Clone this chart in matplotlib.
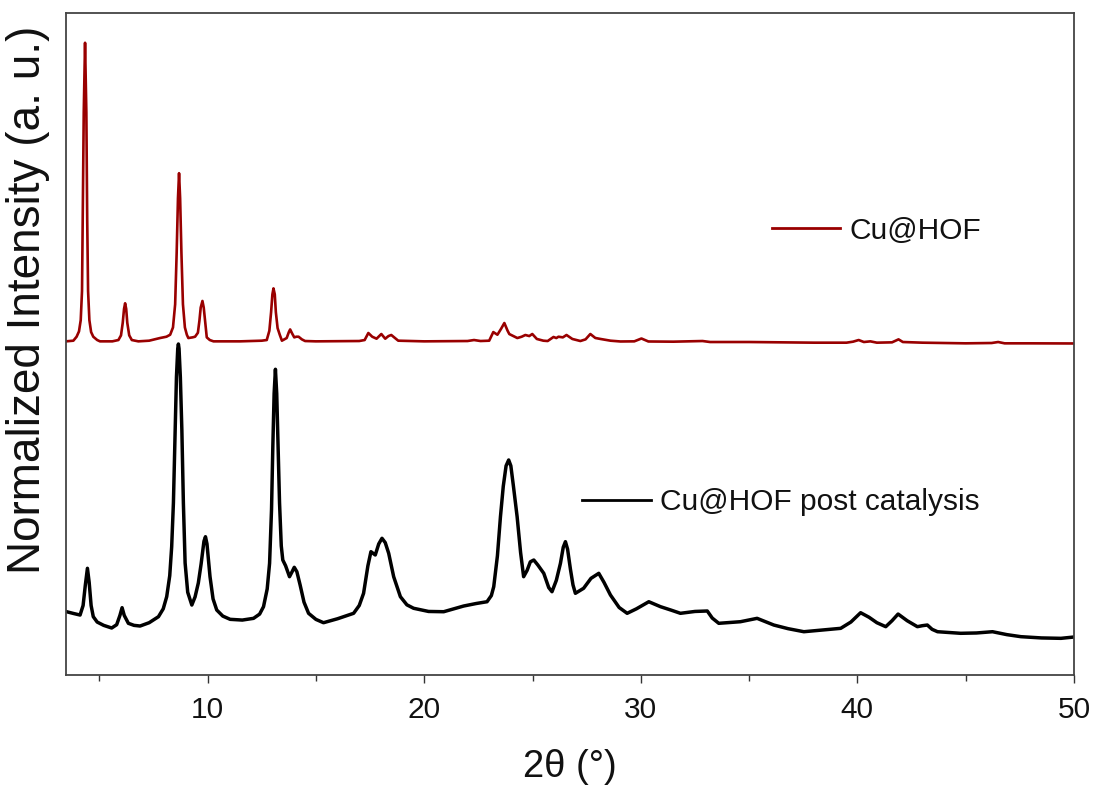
import matplotlib
matplotlib.use("Agg")
import matplotlib.pyplot as plt
from matplotlib.ticker import MultipleLocator

plt.rcParams['font.family'] = ['Liberation Sans', 'DejaVu Sans']

# ---- data (2θ in degrees, intensity in plot units) ----
hof_theta = [3.46, 3.80, 3.95, 4.06, 4.14, 4.20, 4.23, 4.28, 4.34, 4.40, 4.44, 4.48, 4.54, 4.62, 4.72, 4.90, 5.03,
             5.60, 5.88, 6.00, 6.08, 6.14, 6.19, 6.24, 6.29, 6.38, 6.50, 6.80,
             7.30, 7.80, 8.10, 8.27, 8.40, 8.50, 8.57, 8.63, 8.68, 8.73, 8.79, 8.86, 8.95, 9.04, 9.11,
             9.30, 9.42, 9.55, 9.62, 9.68, 9.76, 9.82, 9.88, 9.96, 10.10, 10.27,
             11.50, 12.50, 12.73, 12.85, 12.93, 12.99, 13.04, 13.10, 13.15, 13.23, 13.33, 13.43,
             13.65, 13.75, 13.81, 13.90, 14.00, 14.10, 14.20, 14.35, 14.50, 15.00,
             17.00, 17.25, 17.42, 17.60, 17.80, 18.02, 18.20, 18.35, 18.48, 18.65, 18.80, 20.00,
             22.00, 22.30, 22.60, 23.00, 23.19, 23.38, 23.55, 23.70, 23.85, 23.93, 24.30, 24.50, 24.67, 24.85,
             24.99, 25.20, 25.50, 25.70, 25.97, 26.10, 26.20, 26.40, 26.57, 26.84, 27.21, 27.45, 27.67, 27.90,
             28.14, 28.60, 29.06, 29.70, 30.03, 30.35, 31.50, 32.85, 33.20, 35.00, 36.50, 38.00, 39.50, 39.80,
             40.06, 40.30, 40.60, 40.90, 41.60, 41.90, 42.10, 43.00, 45.00, 46.20, 46.50, 46.80, 48.00, 50.00]
hof_int = [50.40, 50.50, 51.10, 51.90, 53.60, 58.00, 68.70, 85.00, 95.50, 85.00, 68.70, 58.00, 53.60, 51.80, 51.10, 50.60, 50.40,
           50.40, 50.60, 51.30, 53.20, 55.30, 56.15, 55.30, 53.20, 51.30, 50.60, 50.40,
           50.50, 50.90, 51.10, 51.40, 52.50, 56.00, 63.75, 72.00, 75.80, 72.00, 63.75, 56.00, 52.50, 51.40, 50.90,
           51.00, 51.10, 51.70, 53.50, 55.50, 56.50, 55.50, 53.50, 51.00, 50.60, 50.40,
           50.40, 50.50, 50.60, 52.00, 54.80, 57.50, 58.40, 57.50, 54.80, 52.40, 51.40, 50.50,
           50.90, 51.80, 52.20, 51.60, 51.00, 51.10, 51.10, 50.70, 50.45, 50.40,
           50.45, 50.60, 51.66, 51.10, 50.80, 51.51, 50.80, 51.20, 51.36, 50.90, 50.50, 50.40,
           50.45, 50.60, 50.45, 50.50, 51.80, 51.40, 52.30, 53.17, 52.00, 51.50, 50.90, 51.10, 51.36, 51.20,
           51.51, 50.76, 50.50, 50.45, 51.06, 50.90, 51.10, 51.00, 51.36, 50.76, 50.45, 50.70, 51.51, 50.91,
           50.76, 50.50, 50.38, 50.40, 50.83, 50.38, 50.35, 50.45, 50.30, 50.30, 50.25, 50.20, 50.20, 50.35,
           50.60, 50.30, 50.40, 50.20, 50.25, 50.70, 50.30, 50.20, 50.10, 50.15, 50.30, 50.10, 50.10, 50.08]

post_theta = [3.49, 3.80, 4.11, 4.25, 4.35, 4.45, 4.53, 4.62, 4.72, 4.90, 5.20, 5.57, 5.80, 5.95, 6.05, 6.15,
              6.34, 6.60, 6.88, 7.30, 7.73, 7.95, 8.11, 8.25, 8.34, 8.42, 8.50, 8.56, 8.62, 8.65, 8.68, 8.74,
              8.81, 8.88, 8.96, 9.08, 9.27, 9.42, 9.57, 9.70, 9.83, 9.90, 9.97, 10.11, 10.25, 10.42, 10.70,
              11.04, 11.60, 12.12, 12.40, 12.58, 12.75, 12.86, 12.95, 13.01, 13.07, 13.13, 13.19, 13.25,
              13.32, 13.40, 13.47, 13.60, 13.78, 13.90, 14.00, 14.12, 14.27, 14.45, 14.66, 15.00, 15.35,
              16.00, 16.74, 17.00, 17.20, 17.40, 17.54, 17.74, 17.90, 18.05, 18.20, 18.36, 18.59, 18.90,
              19.20, 19.51, 20.20, 20.90, 21.82, 22.40, 22.90, 23.10, 23.21, 23.38, 23.52, 23.65, 23.78,
              23.90, 24.00, 24.12, 24.29, 24.45, 24.59, 24.75, 24.90, 25.06, 25.25, 25.52, 25.75, 25.90,
              26.10, 26.29, 26.42, 26.52, 26.62, 26.75, 26.87, 26.98, 27.36, 27.70, 28.06, 28.30, 28.60,
              29.00, 29.37, 29.80, 30.37, 30.91, 31.40, 31.83, 32.50, 33.07, 33.30, 33.60, 34.60, 35.37,
              35.80, 36.14, 36.80, 37.53, 38.40, 39.23, 39.70, 40.15, 40.54, 40.90, 41.31, 41.60, 41.88,
              42.30, 42.77, 43.00, 43.23, 43.45, 43.70, 44.77, 45.50, 46.24, 46.90, 47.55, 48.50, 49.40,
              50.00]
post_int = [9.56, 9.30, 9.06, 10.50, 13.50, 16.12, 14.00, 10.50, 8.81, 8.00, 7.50, 7.10, 7.60, 9.00, 10.17, 9.00,
            7.81, 7.50, 7.40, 7.90, 8.81, 10.00, 11.83, 15.00, 19.38, 26.00, 37.01, 45.00, 49.30, 50.00, 49.30, 45.00,
            37.01, 26.00, 16.92, 12.50, 10.57, 11.80, 13.90, 16.80, 20.20, 20.89, 19.80, 14.85, 11.50, 9.82, 8.90,
            8.41, 8.30, 8.56, 9.20, 10.32, 13.00, 16.87, 25.00, 34.49, 42.50, 46.18, 42.50, 35.00,
            26.00, 19.50, 17.37, 16.50, 14.85, 15.60, 16.27, 15.60, 13.60, 11.00, 9.32, 8.40, 7.90,
            8.50, 9.32, 10.50, 12.34, 16.50, 18.63, 18.13, 19.80, 20.65, 20.00, 18.38, 14.85, 11.83,
            10.60, 10.08, 9.60, 9.56, 10.42, 10.80, 11.07, 12.00, 13.34, 18.00, 23.91, 28.50, 31.60,
            32.48, 31.60, 28.50, 23.91, 18.50, 14.85, 15.80, 17.10, 17.37, 16.60, 15.36, 13.20, 12.58,
            14.30, 16.87, 19.30, 20.14, 19.00, 16.00, 13.60, 12.34, 13.10, 14.60, 15.36, 14.00, 12.08,
            10.20, 9.32, 10.00, 11.07, 10.32, 9.80, 9.32, 9.60, 9.67, 8.60, 7.81, 8.05, 8.56,
            8.00, 7.55, 7.00, 6.54, 6.80, 7.05, 8.00, 9.41, 8.72, 7.90, 7.30, 8.20, 9.21,
            8.20, 7.30, 7.45, 7.55, 6.90, 6.54, 6.30, 6.35, 6.54, 6.10, 5.79, 5.60, 5.54,
            5.74]

series_labels = ["Cu@HOF", "Cu@HOF post catalysis"]
series_colors = ["#990000", "#000000"]
x_ticks = [10, 20, 30, 40, 50]

fig = plt.figure(figsize=(10.98, 7.87), dpi=100)
ax = fig.add_axes([0.0601, 0.1423, 0.9180, 0.8412])

l_hof, = ax.plot(hof_theta, hof_int, color=series_colors[0], lw=1.9, solid_joinstyle='round')
l_post, = ax.plot(post_theta, post_int, color=series_colors[1], lw=2.5, solid_joinstyle='round')

ax.set_xlim(3.46, 50)
ax.set_ylim(0, 100)
ax.set_xticks(x_ticks)
ax.xaxis.set_minor_locator(MultipleLocator(5))
ax.set_yticks([])
ax.tick_params(axis='x', which='major', direction='out', length=6, width=1.0, colors='#333333',
               labelsize=21.5, labelcolor='#111111', pad=9)
ax.tick_params(axis='x', which='minor', direction='out', length=4, width=1.0, colors='#333333')
for s in ax.spines.values():
    s.set_color('#444444')
    s.set_linewidth(1.3)

ax.set_xlabel("2θ (°)", fontsize=27.5, color='#111111', labelpad=18)
ax.set_ylabel("Normalized Intensity (a. u.)", fontsize=33, color='#111111')
ax.yaxis.set_label_coords(-0.016, 0.566)

leg1 = ax.legend(handles=[l_hof], labels=[series_labels[0]], loc='center left',
                 bbox_to_anchor=(0.700, 0.671), frameon=False, fontsize=21.5,
                 handlelength=2.3, handletextpad=0.3, borderpad=0, borderaxespad=0)
for t in leg1.get_texts():
    t.set_color('#111111')
ax.add_artist(leg1)
leg2 = ax.legend(handles=[l_post], labels=[series_labels[1]], loc='center left',
                 bbox_to_anchor=(0.512, 0.261), frameon=False, fontsize=21.5,
                 handlelength=2.3, handletextpad=0.3, borderpad=0, borderaxespad=0)
for t in leg2.get_texts():
    t.set_color('#111111')
for lh in leg1.get_lines() + leg2.get_lines():
    lh.set_linewidth(2.0)

fig.savefig("out.png", dpi=100)
